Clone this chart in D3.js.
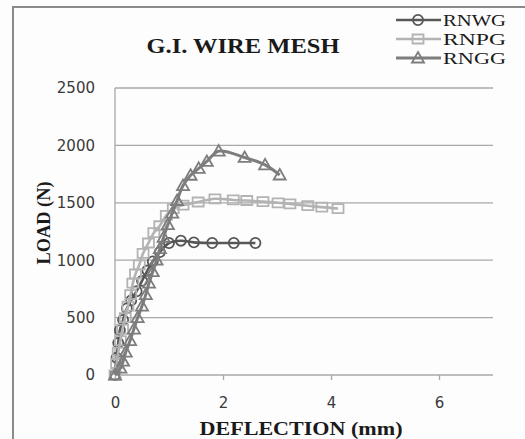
<!DOCTYPE html>
<html>
<head>
<meta charset="utf-8">
<script src="https://cdn.jsdelivr.net/npm/d3@7"></script>
<style>
  body { margin: 0; background: #fff; }
  svg { display: block; }
</style>
</head>
<body>
<div id="chart"></div>
<script>
// series data: deflection (mm) and load (N)
var rnwgX = [0, 0.03, 0.06, 0.09, 0.15, 0.22, 0.3, 0.4, 0.5, 0.6, 0.7, 0.83, 1.0, 1.22, 1.46, 1.8, 2.2, 2.6];
var rnwgY = [0, 150, 280, 390, 480, 580, 650, 730, 820, 910, 990, 1070, 1150, 1170, 1155, 1150, 1150, 1150];

var rnpgX = [0, 0.03, 0.06, 0.1, 0.14, 0.19, 0.24, 0.29, 0.33, 0.38, 0.45, 0.52, 0.62, 0.72, 0.83, 0.95, 1.08, 1.26, 1.54, 1.85, 2.19, 2.44, 2.74, 3.02, 3.24, 3.57, 3.83, 4.13];
var rnpgY = [0, 100, 200, 300, 400, 500, 600, 700, 800, 880, 960, 1060, 1150, 1240, 1300, 1390, 1450, 1480, 1507, 1535, 1525, 1520, 1510, 1500, 1490, 1475, 1462, 1450];

var rnggX = [0, 0.1, 0.15, 0.2, 0.28, 0.35, 0.42, 0.5, 0.57, 0.63, 0.7, 0.77, 0.83, 0.9, 0.98, 1.06, 1.15, 1.26, 1.4, 1.55, 1.7, 1.92, 2.4, 2.78, 3.05];
var rnggY = [0, 60, 120, 200, 300, 400, 500, 600, 700, 800, 900, 1000, 1100, 1200, 1310, 1410, 1520, 1650, 1740, 1800, 1860, 1950, 1895, 1830, 1742];

var seriesNames = ["RNWG", "RNPG", "RNGG"];
var xTicks = [0, 2, 4, 6];
var yTicks = [0, 500, 1000, 1500, 2000, 2500];

var W = 525, H = 439;
var margin = {top: 88, right: 32, bottom: 64, left: 115};
var width = W - margin.left - margin.right,   // 0..7 mm
    height = H - margin.top - margin.bottom;

var svg = d3.select("#chart").append("svg")
    .attr("width", W)
    .attr("height", H);

svg.append("rect").attr("width", W).attr("height", H).attr("fill", "#fdfdfd");

// outer frame (only left and top visible)
svg.append("path")
    .attr("d", "M13," + H + "V7H" + W)
    .attr("fill", "none")
    .attr("stroke", "#8a8a8a")
    .attr("stroke-width", 2);

var g = svg.append("g")
    .attr("transform", "translate(" + margin.left + "," + margin.top + ")");

var x = d3.scaleLinear().domain([0, 7]).range([0, width]);
var y = d3.scaleLinear().domain([0, 2500]).range([height, 0]);

// horizontal gridlines
g.append("g")
  .selectAll("line")
  .data(yTicks)
  .enter().append("line")
    .attr("x1", 0).attr("x2", width)
    .attr("y1", function(d){ return y(d); })
    .attr("y2", function(d){ return y(d); })
    .attr("stroke", "#a8a8a8")
    .attr("stroke-width", 1.3);

// y axis line
g.append("line")
    .attr("x1", 0).attr("x2", 0)
    .attr("y1", 0).attr("y2", height)
    .attr("stroke", "#a8a8a8")
    .attr("stroke-width", 1.3);

var yAxis = g.append("g")
    .call(d3.axisLeft(y).tickValues(yTicks).tickFormat(d3.format("d")).tickSize(0).tickPadding(20));
yAxis.select(".domain").remove();
yAxis.selectAll("text")
    .attr("font-family", "DejaVu Sans, Verdana, sans-serif")
    .attr("font-size", 15)
    .attr("fill", "#3a3a3a");

var xAxis = g.append("g")
    .attr("transform", "translate(0," + height + ")")
    .call(d3.axisBottom(x).tickValues(xTicks).tickFormat(d3.format("d")).tickSize(5).tickPadding(17));
xAxis.select(".domain").remove();
xAxis.selectAll("line").attr("stroke", "#a8a8a8").attr("stroke-width", 1.3);
xAxis.selectAll("text")
    .attr("font-family", "DejaVu Sans, Verdana, sans-serif")
    .attr("font-size", 15)
    .attr("fill", "#3a3a3a");

// series
var series = [
  {name: seriesNames[0], xs: rnwgX, ys: rnwgY, color: "#575757", shape: "circle", w: 2.6},
  {name: seriesNames[1], xs: rnpgX, ys: rnpgY, color: "#b3b3b3", shape: "square", w: 2.6},
  {name: seriesNames[2], xs: rnggX, ys: rnggY, color: "#7d7d7d", shape: "triangle", w: 3}
];

var line = d3.line()
    .x(function(d){ return x(d[0]); })
    .y(function(d){ return y(d[1]); })
    .curve(d3.curveCatmullRom);

function markerPath(shape) {
  if (shape === "circle") return d3.symbol().type(d3.symbolCircle).size(80)();
  if (shape === "square") return "M-5.5,-4.5H5.5V4.5H-5.5Z";
  return "M0,-6L6,4.5H-6Z";
}

series.forEach(function(s){
  var pts = s.xs.map(function(v, i){ return [v, s.ys[i]]; });
  var sg = g.append("g");
  sg.append("path")
      .datum(pts)
      .attr("d", line)
      .attr("fill", "none")
      .attr("stroke", s.color)
      .attr("stroke-width", s.w);
  sg.selectAll("path.mk")
    .data(pts)
    .enter().append("path")
      .attr("class", "mk")
      .attr("d", markerPath(s.shape))
      .attr("transform", function(d){ return "translate(" + x(d[0]) + "," + y(d[1]) + ")"; })
      .attr("fill", "none")
      .attr("stroke", s.color)
      .attr("stroke-width", 1.8);
});

// title
svg.append("text")
    .attr("x", 243).attr("y", 53)
    .attr("text-anchor", "middle")
    .attr("font-family", "Liberation Serif, Times New Roman, serif")
    .attr("font-weight", "bold")
    .attr("font-size", 21)
    .attr("textLength", 193)
    .attr("lengthAdjust", "spacingAndGlyphs")
    .attr("fill", "#1a1a1a")
    .text("G.I. WIRE MESH");

// axis titles
svg.append("text")
    .attr("x", 301).attr("y", 435)
    .attr("text-anchor", "middle")
    .attr("font-family", "Liberation Serif, Times New Roman, serif")
    .attr("font-weight", "bold")
    .attr("font-size", 19)
    .attr("textLength", 203)
    .attr("lengthAdjust", "spacingAndGlyphs")
    .attr("fill", "#1a1a1a")
    .text("DEFLECTION (mm)");

svg.append("text")
    .attr("transform", "translate(50,223) rotate(-90)")
    .attr("text-anchor", "middle")
    .attr("font-family", "Liberation Serif, Times New Roman, serif")
    .attr("font-weight", "bold")
    .attr("font-size", 19)
    .attr("textLength", 83)
    .attr("lengthAdjust", "spacingAndGlyphs")
    .attr("fill", "#1a1a1a")
    .text("LOAD (N)");

// legend
var legend = svg.append("g");
var legY = [20, 39, 58];
series.forEach(function(s, i){
  var lg = legend.append("g").attr("transform", "translate(0," + legY[i] + ")");
  lg.append("line")
      .attr("x1", 396).attr("x2", 441)
      .attr("stroke", s.color)
      .attr("stroke-width", s.w);
  lg.append("path")
      .attr("d", markerPath(s.shape))
      .attr("transform", "translate(418,0)")
      .attr("fill", "none")
      .attr("stroke", s.color)
      .attr("stroke-width", 1.8);
  lg.append("text")
      .attr("x", 443).attr("y", 5.5)
      .attr("font-family", "Liberation Serif, Times New Roman, serif")
      .attr("font-size", 16)
      .attr("textLength", 63)
      .attr("lengthAdjust", "spacingAndGlyphs")
      .attr("fill", "#1a1a1a")
      .text(s.name);
});
</script>
</body>
</html>
